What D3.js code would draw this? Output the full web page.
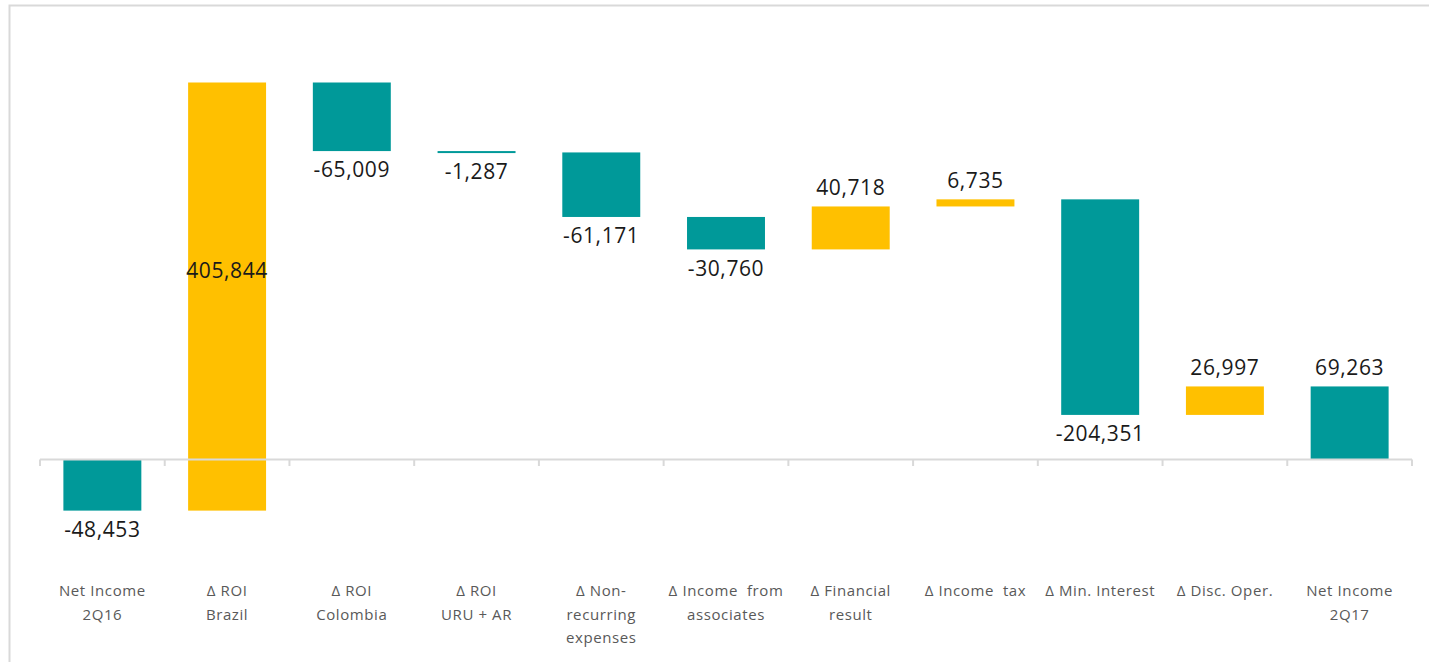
<!DOCTYPE html>
<html>
<head>
<meta charset="utf-8">
<script src="https://cdn.jsdelivr.net/npm/d3@7"></script>
<style>
  body { margin:0; background:#fff; }
  svg { display:block; }
</style>
</head>
<body>
<div id="chart"></div>
<script>
// waterfall data
const categories = [
  ["Net Income", "2Q16"],
  ["Δ ROI", "Brazil"],
  ["Δ ROI", "Colombia"],
  ["Δ ROI", "URU + AR"],
  ["Δ Non-", "recurring", "expenses"],
  ["Δ Income  from", "associates"],
  ["Δ Financial", "result"],
  ["Δ Income  tax"],
  ["Δ Min. Interest"],
  ["Δ Disc. Oper."],
  ["Net Income", "2Q17"]
]
const values = [-48453, 405844, -65009, -1287, -61171, -30760, 40718, 6735, -204351, 26997, 69263]
// total bars start at zero, the others float on the running sum
const isTotal = [true, false, false, false, false, false, false, false, false, false, true]

const W = 1429, H = 662
const teal = "#009999", gold = "#FFC000"

// build the floating segments
let run = 0
let bars = values.map(function(v, i) {
  let lo, hi
  if (isTotal[i]) { lo = Math.min(0, v); hi = Math.max(0, v); run = v }
  else { let s = run; run = run + v; lo = Math.min(s, run); hi = Math.max(s, run) }
  return {i: i, v: v, lo: lo, hi: hi, name: categories[i]}
})

var svg = d3.select("#chart").append("svg").attr("width", W).attr("height", H)

// outer frame of the chart area
svg.append("rect").attr("x", 9.5).attr("y", 5.5).attr("width", W).attr("height", H)
  .attr("fill", "none").attr("stroke", "#d9d9d9").attr("stroke-width", 2)

var x = d3.scaleBand().domain(d3.range(categories.length)).range([40, 1412]).paddingInner(0.375).paddingOuter(0.1875)
var y = d3.scaleLinear().domain([0, 357391]).range([459.5, 82.5])

svg.selectAll(".bar").data(bars).enter().append("rect")
  .attr("x", d => x(d.i)).attr("width", x.bandwidth())
  .attr("y", d => y(d.hi))
  .attr("height", d => Math.max(2, y(d.lo) - y(d.hi)))
  .attr("fill", d => (d.v < 0 || isTotal[d.i]) ? teal : gold)

// x axis line with ticks between the categories
var step = x.step()
svg.append("line").attr("x1", 40).attr("x2", 1412).attr("y1", 459.5).attr("y2", 459.5)
  .attr("stroke", "#d9d9d9").attr("stroke-width", 2)
svg.selectAll(".tick").data(d3.range(categories.length + 1)).enter().append("line")
  .attr("x1", d => 40 + d * step).attr("x2", d => 40 + d * step)
  .attr("y1", 459.5).attr("y2", 466).attr("stroke", "#d9d9d9").attr("stroke-width", 2)

// value labels
svg.selectAll(".val").data(bars).enter().append("text")
  .attr("x", d => x(d.i) + x.bandwidth() / 2)
  .attr("y", function(d) {
    if (d.i == 1) return (y(Math.max(0, d.lo)) + y(d.hi)) / 2
    if (d.v < 0) return y(d.lo) + 19
    return y(d.hi) - 19
  })
  .attr("dy", ".35em").attr("text-anchor", "middle")
  .style("font-family", "'Open Sans', sans-serif").style("font-size", "21px")
  .style("letter-spacing", "0.6px").style("fill", "#1a1a1a")
  .text(d => d3.format(",")(d.v).replace("−", "-"))

// category labels
var cat = svg.selectAll(".cat").data(bars).enter().append("text")
  .attr("text-anchor", "middle")
  .style("font-family", "'Open Sans', sans-serif").style("font-size", "15px")
  .style("letter-spacing", "0.6px").style("fill", "#595959")
cat.selectAll("tspan").data(d => d.name.map(t => ({t: t, i: d.i}))).enter().append("tspan")
  .attr("x", d => x(d.i) + x.bandwidth() / 2)
  .attr("y", (d, k) => 596 + k * 23.5)
  .style("white-space", "pre")
  .text(d => d.t)
</script>
</body>
</html>
